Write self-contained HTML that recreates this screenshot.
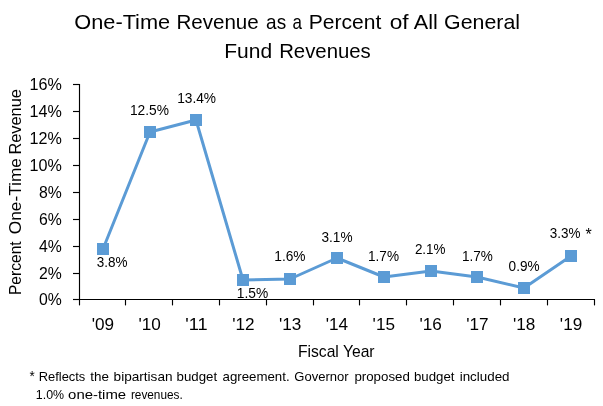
<!DOCTYPE html><html><head><meta charset="utf-8"><title>One-Time Revenue</title>
<style>html,body{margin:0;padding:0;background:#fff}svg{display:block}text{font-family:"Liberation Sans",sans-serif;fill:#000}</style></head><body>
<svg width="603" height="406" viewBox="0 0 603 406">
<rect width="603" height="406" fill="#fff"/>
<g stroke="#000" stroke-width="1.15" fill="none">
<path d="M79.5 84 V300.0"/>
<path d="M79.0 299.5 H595"/>
<path d="M73 299.50 H79.5"/>
<path d="M73 273.50 H79.5"/>
<path d="M73 246.50 H79.5"/>
<path d="M73 219.50 H79.5"/>
<path d="M73 192.50 H79.5"/>
<path d="M73 165.50 H79.5"/>
<path d="M73 138.50 H79.5"/>
<path d="M73 111.50 H79.5"/>
<path d="M73 84.50 H79.5"/>
<path d="M79.50 299.5 V305.4"/>
<path d="M125.50 299.5 V305.4"/>
<path d="M172.50 299.5 V305.4"/>
<path d="M219.50 299.5 V305.4"/>
<path d="M266.50 299.5 V305.4"/>
<path d="M313.50 299.5 V305.4"/>
<path d="M359.50 299.5 V305.4"/>
<path d="M406.50 299.5 V305.4"/>
<path d="M453.50 299.5 V305.4"/>
<path d="M500.50 299.5 V305.4"/>
<path d="M547.50 299.5 V305.4"/>
<path d="M594.50 299.5 V305.4"/>
</g>
<path d="M103 249 L150 132 L196 120 L243 280 L290 279 L337 258 L384 277 L431 271 L477 277 L524 288 L571 256" fill="none" stroke="#5B9BD5" stroke-width="3" stroke-linejoin="round" stroke-linecap="round"/>
<rect x="97" y="243" width="12" height="12" fill="#5B9BD5"/>
<rect x="144" y="126" width="12" height="12" fill="#5B9BD5"/>
<rect x="190" y="114" width="12" height="12" fill="#5B9BD5"/>
<rect x="237" y="274" width="12" height="12" fill="#5B9BD5"/>
<rect x="284" y="273" width="12" height="12" fill="#5B9BD5"/>
<rect x="331" y="252" width="12" height="12" fill="#5B9BD5"/>
<rect x="378" y="271" width="12" height="12" fill="#5B9BD5"/>
<rect x="425" y="265" width="12" height="12" fill="#5B9BD5"/>
<rect x="471" y="271" width="12" height="12" fill="#5B9BD5"/>
<rect x="518" y="282" width="12" height="12" fill="#5B9BD5"/>
<rect x="565" y="250" width="12" height="12" fill="#5B9BD5"/>
<text x="74.26" y="28.50" font-size="21.0" textLength="95.94" lengthAdjust="spacingAndGlyphs">One-Time</text>
<text x="176.42" y="28.50" font-size="21.0" textLength="82.34" lengthAdjust="spacingAndGlyphs">Revenue</text>
<text x="266.10" y="28.50" font-size="21.0" textLength="20.05" lengthAdjust="spacingAndGlyphs">as</text>
<text x="292.60" y="28.50" font-size="21.0" textLength="9.44" lengthAdjust="spacingAndGlyphs">a</text>
<text x="308.80" y="28.50" font-size="21.0" textLength="72.54" lengthAdjust="spacingAndGlyphs">Percent</text>
<text x="389.70" y="28.50" font-size="21.0" textLength="18.92" lengthAdjust="spacingAndGlyphs">of</text>
<text x="413.80" y="28.50" font-size="21.0" textLength="23.98" lengthAdjust="spacingAndGlyphs">All</text>
<text x="444.08" y="28.50" font-size="21.0" textLength="75.99" lengthAdjust="spacingAndGlyphs">General</text>
<text x="224.20" y="58.00" font-size="21.0" textLength="47.88" lengthAdjust="spacingAndGlyphs">Fund</text>
<text x="279.13" y="58.00" font-size="21.0" textLength="91.65" lengthAdjust="spacingAndGlyphs">Revenues</text>
<text x="39.00" y="305.10" font-size="16.1" textLength="22.80" lengthAdjust="spacingAndGlyphs">0%</text>
<text x="39.00" y="279.10" font-size="16.1" textLength="22.80" lengthAdjust="spacingAndGlyphs">2%</text>
<text x="39.00" y="252.10" font-size="16.1" textLength="22.80" lengthAdjust="spacingAndGlyphs">4%</text>
<text x="39.00" y="225.10" font-size="16.1" textLength="22.80" lengthAdjust="spacingAndGlyphs">6%</text>
<text x="39.00" y="198.10" font-size="16.1" textLength="22.80" lengthAdjust="spacingAndGlyphs">8%</text>
<text x="29.50" y="171.10" font-size="16.1" textLength="32.31" lengthAdjust="spacingAndGlyphs">10%</text>
<text x="29.50" y="144.10" font-size="16.1" textLength="32.31" lengthAdjust="spacingAndGlyphs">12%</text>
<text x="29.50" y="117.10" font-size="16.1" textLength="32.31" lengthAdjust="spacingAndGlyphs">14%</text>
<text x="29.50" y="90.10" font-size="16.1" textLength="32.31" lengthAdjust="spacingAndGlyphs">16%</text>
<text x="91.71" y="329.50" font-size="16.1" textLength="22.35" lengthAdjust="spacingAndGlyphs">'09</text>
<text x="138.53" y="329.50" font-size="16.1" textLength="22.35" lengthAdjust="spacingAndGlyphs">'10</text>
<text x="185.34" y="329.50" font-size="16.1" textLength="22.34" lengthAdjust="spacingAndGlyphs">'11</text>
<text x="232.16" y="329.50" font-size="16.1" textLength="22.35" lengthAdjust="spacingAndGlyphs">'12</text>
<text x="278.98" y="329.50" font-size="16.1" textLength="22.35" lengthAdjust="spacingAndGlyphs">'13</text>
<text x="325.80" y="329.50" font-size="16.1" textLength="22.35" lengthAdjust="spacingAndGlyphs">'14</text>
<text x="372.62" y="329.50" font-size="16.1" textLength="22.35" lengthAdjust="spacingAndGlyphs">'15</text>
<text x="419.43" y="329.50" font-size="16.1" textLength="22.35" lengthAdjust="spacingAndGlyphs">'16</text>
<text x="466.25" y="329.50" font-size="16.1" textLength="22.35" lengthAdjust="spacingAndGlyphs">'17</text>
<text x="513.07" y="329.50" font-size="16.1" textLength="22.35" lengthAdjust="spacingAndGlyphs">'18</text>
<text x="559.89" y="329.50" font-size="16.1" textLength="22.35" lengthAdjust="spacingAndGlyphs">'19</text>
<text x="297.93" y="356.70" font-size="16.1" textLength="76.65" lengthAdjust="spacingAndGlyphs">Fiscal Year</text>
<text x="96.70" y="266.90" font-size="14.2" textLength="30.73" lengthAdjust="spacingAndGlyphs">3.8%</text>
<text x="129.93" y="114.60" font-size="14.2" textLength="39.00" lengthAdjust="spacingAndGlyphs">12.5%</text>
<text x="177.13" y="102.90" font-size="14.2" textLength="38.89" lengthAdjust="spacingAndGlyphs">13.4%</text>
<text x="236.83" y="297.80" font-size="14.2" textLength="31.40" lengthAdjust="spacingAndGlyphs">1.5%</text>
<text x="274.28" y="261.20" font-size="14.2" textLength="31.30" lengthAdjust="spacingAndGlyphs">1.6%</text>
<text x="321.50" y="242.30" font-size="14.2" textLength="31.03" lengthAdjust="spacingAndGlyphs">3.1%</text>
<text x="368.04" y="261.10" font-size="14.2" textLength="30.99" lengthAdjust="spacingAndGlyphs">1.7%</text>
<text x="414.90" y="254.20" font-size="14.2" textLength="30.64" lengthAdjust="spacingAndGlyphs">2.1%</text>
<text x="462.04" y="261.10" font-size="14.2" textLength="30.89" lengthAdjust="spacingAndGlyphs">1.7%</text>
<text x="508.60" y="271.00" font-size="14.2" textLength="31.03" lengthAdjust="spacingAndGlyphs">0.9%</text>
<text x="549.75" y="238.40" font-size="14.2" textLength="30.68" lengthAdjust="spacingAndGlyphs">3.3%</text>
<text x="585.40" y="240.10" font-size="16.5" textLength="6.24" lengthAdjust="spacingAndGlyphs">*</text>
<text x="29.60" y="380.70" font-size="15" textLength="5.25" lengthAdjust="spacingAndGlyphs">*</text>
<text x="38.71" y="381.00" font-size="13" textLength="46.60" lengthAdjust="spacingAndGlyphs">Reflects</text>
<text x="90.30" y="381.00" font-size="13" textLength="18.64" lengthAdjust="spacingAndGlyphs">the</text>
<text x="113.60" y="381.00" font-size="13" textLength="58.94" lengthAdjust="spacingAndGlyphs">bipartisan</text>
<text x="176.60" y="381.00" font-size="13" textLength="40.50" lengthAdjust="spacingAndGlyphs">budget</text>
<text x="222.50" y="381.00" font-size="13" textLength="67.12" lengthAdjust="spacingAndGlyphs">agreement.</text>
<text x="294.30" y="381.00" font-size="13" textLength="54.33" lengthAdjust="spacingAndGlyphs">Governor</text>
<text x="354.40" y="381.00" font-size="13" textLength="55.44" lengthAdjust="spacingAndGlyphs">proposed</text>
<text x="414.00" y="381.00" font-size="13" textLength="40.50" lengthAdjust="spacingAndGlyphs">budget</text>
<text x="459.70" y="381.00" font-size="13" textLength="49.84" lengthAdjust="spacingAndGlyphs">included</text>
<text x="35.80" y="398.60" font-size="13" textLength="28.28" lengthAdjust="spacingAndGlyphs">1.0%</text>
<text x="68.10" y="398.60" font-size="13" textLength="58.06" lengthAdjust="spacingAndGlyphs">one-time</text>
<text x="130.90" y="398.60" font-size="13" textLength="51.86" lengthAdjust="spacingAndGlyphs">revenues.</text>
<g transform="translate(20.9 294.1) rotate(-90)">
<text x="-0.96" y="0.00" font-size="16.3" textLength="53.70" lengthAdjust="spacingAndGlyphs">Percent</text>
<text x="59.90" y="0.00" font-size="16.3" textLength="76.16" lengthAdjust="spacingAndGlyphs">One-Time</text>
<text x="139.49" y="0.00" font-size="16.3" textLength="65.56" lengthAdjust="spacingAndGlyphs">Revenue</text>
</g>
</svg></body></html>
